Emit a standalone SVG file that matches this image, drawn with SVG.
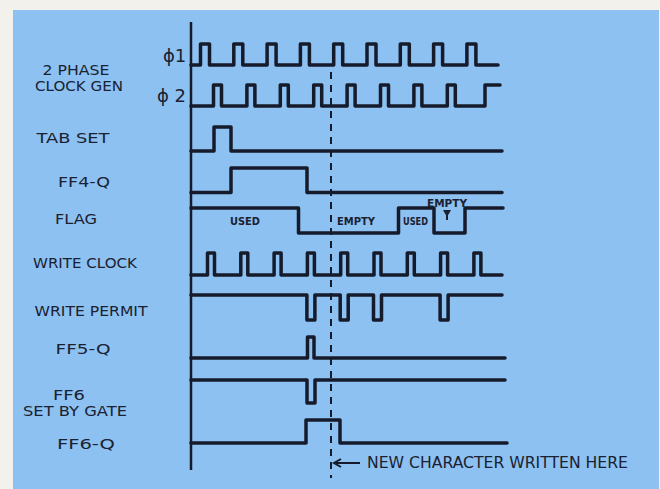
<svg xmlns="http://www.w3.org/2000/svg" width="660" height="489" viewBox="0 0 660 489">
<style>
.bg{fill:#f3f1ec}
.panel{fill:#8cc1f2}
.w{fill:none;stroke:#161b2b;stroke-width:3.5;stroke-linejoin:round;stroke-linecap:round}
.ax{fill:none;stroke:#161b2b;stroke-width:2.5}
.dash{fill:none;stroke:#161b2b;stroke-width:2;stroke-dasharray:7 6}
.lbl{font-family:"DejaVu Sans","Liberation Sans",sans-serif;font-size:14.5px;fill:#1b2130;text-anchor:middle}
.phi{font-family:"DejaVu Sans",sans-serif;font-size:18px;fill:#1b2130}
.sm{font-family:"DejaVu Sans","Liberation Sans",sans-serif;font-size:10.5px;font-weight:bold;fill:#1b2130}
.note{font-family:"DejaVu Sans","Liberation Sans",sans-serif;font-size:15px;fill:#1b2130}
</style>
<rect class="bg" x="0" y="0" width="660" height="489"/>
<rect class="panel" x="13" y="10" width="646" height="479"/>

<g id="labels">
<text class="lbl" x="76" y="75" textLength="67" lengthAdjust="spacingAndGlyphs">2 PHASE</text>
<text class="lbl" x="79" y="91" textLength="88" lengthAdjust="spacingAndGlyphs">CLOCK GEN</text>
<text class="phi" x="163" y="62">ϕ1</text>
<text class="phi" x="157" y="102">ϕ 2</text>
<text class="lbl" x="73" y="143" textLength="73" lengthAdjust="spacingAndGlyphs">TAB SET</text>
<text class="lbl" x="84" y="187" textLength="52" lengthAdjust="spacingAndGlyphs">FF4-Q</text>
<text class="lbl" x="76" y="224" textLength="42" lengthAdjust="spacingAndGlyphs">FLAG</text>
<text class="lbl" x="85" y="268" textLength="104" lengthAdjust="spacingAndGlyphs">WRITE CLOCK</text>
<text class="lbl" x="91" y="316" textLength="113" lengthAdjust="spacingAndGlyphs">WRITE PERMIT</text>
<text class="lbl" x="83" y="354" textLength="55" lengthAdjust="spacingAndGlyphs">FF5-Q</text>
<text class="lbl" x="69" y="400" textLength="32" lengthAdjust="spacingAndGlyphs">FF6</text>
<text class="lbl" x="75" y="416" textLength="104" lengthAdjust="spacingAndGlyphs">SET BY GATE</text>
<text class="lbl" x="86" y="449" textLength="58" lengthAdjust="spacingAndGlyphs">FF6-Q</text>
</g>

<g id="axis">
<line class="ax" x1="191" y1="22" x2="191" y2="470"/>
</g>

<g id="phi1"><path class="w" d="M191,65 H200.5 V44 H209.5 V65 H233.8 V44 H242.8 V65 H267.1 V44 H276.1 V65 H300.4 V44 H309.4 V65 H333.7 V44 H342.7 V65 H367 V44 H376 V65 H400.3 V44 H409.3 V65 H433.6 V44 H442.6 V65 H466.9 V44 H475.9 V65 H498"/></g>
<g id="phi2"><path class="w" d="M191,106 H213.5 V85 H221.5 V106 H246.9 V85 H254.9 V106 H280.3 V85 H288.3 V106 H313.7 V85 H321.7 V106 H347.1 V85 H355.1 V106 H380.5 V85 H388.5 V106 H413.9 V85 H421.9 V106 H447.3 V85 H455.3 V106 H485 V85 H500"/></g>
<g id="tabset"><path class="w" d="M191,151 H214 V127 H231 V151 H502"/></g>
<g id="ff4q"><path class="w" d="M191,192.5 H231 V168 H307 V192.5 H502"/></g>
<g id="flag">
<path class="w" d="M191,208 H298.5 V233 H398.5 V208 H434 V233 H465 V208 H503"/>
<text class="sm" x="230" y="225" textLength="30" lengthAdjust="spacingAndGlyphs">USED</text>
<text class="sm" x="337" y="225" textLength="38" lengthAdjust="spacingAndGlyphs">EMPTY</text>
<text class="sm" x="403" y="225" textLength="25" lengthAdjust="spacingAndGlyphs">USED</text>
<text class="sm" x="427" y="207" textLength="40" lengthAdjust="spacingAndGlyphs">EMPTY</text>
<path d="M443,210 L451,210 L447,217 Z" fill="#1b2130"/>
<line x1="447" y1="215" x2="447" y2="220" stroke="#1b2130" stroke-width="2"/>
</g>
<g id="writeclock"><path class="w" d="M191,275 H207.5 V253 H214.5 V275 H240.8 V253 H247.8 V275 H274.1 V253 H281.1 V275 H307.4 V253 H314.4 V275 H340.7 V253 H347.7 V275 H374 V253 H381 V275 H407.3 V253 H414.3 V275 H440.6 V253 H447.6 V275 H473.9 V253 H480.9 V275 H502"/></g>
<g id="writepermit"><path class="w" d="M191,295 H306.9 V320 H314.9 V295 H340.2 V320 H348.2 V295 H373.5 V320 H381.5 V295 H440.1 V320 H448.1 V295 H502"/></g>
<g id="ff5q"><path class="w" d="M191,358 H307.5 V337 H314 V358 H505"/></g>
<g id="ff6set"><path class="w" d="M191,380 H307 V403 H315 V380 H505"/></g>
<g id="ff6q"><path class="w" d="M191,443 H306 V420 H340 V443 H507"/></g>

<g id="connectors">
<line class="dash" x1="331" y1="72" x2="331" y2="478"/>
<line x1="336" y1="463" x2="360" y2="463" stroke="#161b2b" stroke-width="2"/>
<path d="M341,459 L334,463 L341,467" fill="none" stroke="#161b2b" stroke-width="2"/>
<text class="note" x="367" y="468" textLength="261" lengthAdjust="spacingAndGlyphs">NEW CHARACTER WRITTEN HERE</text>
</g>
</svg>
